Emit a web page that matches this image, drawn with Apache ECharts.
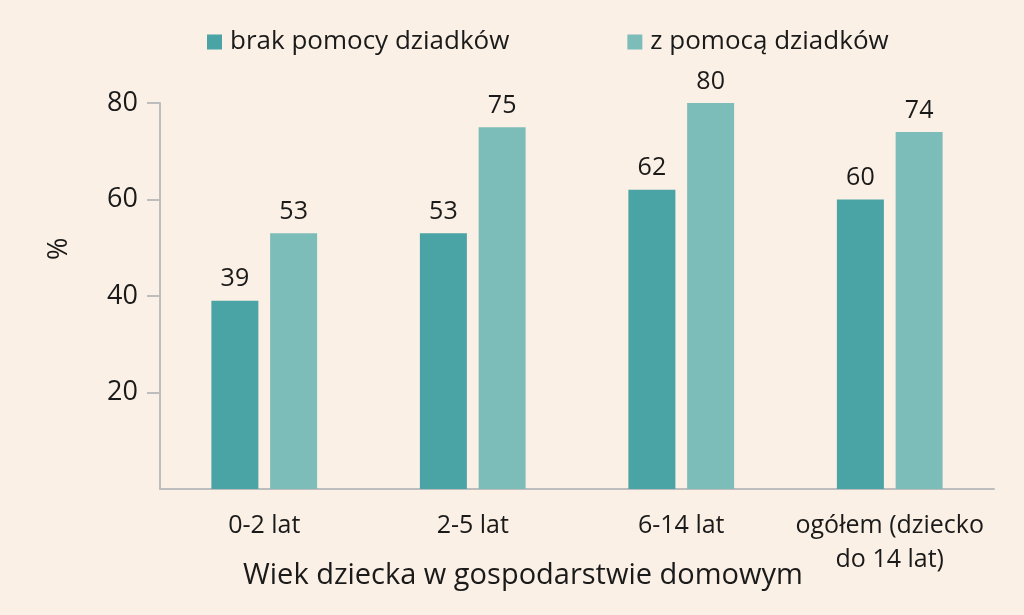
<!DOCTYPE html>
<html>
<head>
<meta charset="utf-8">
<script src="https://cdn.jsdelivr.net/npm/echarts@6/dist/echarts.min.js"></script>
<style>
  html, body { margin: 0; padding: 0; background: #fbf0e5; }
  #chart { width: 1024px; height: 615px; }
</style>
</head>
<body>
<div id="chart"></div>
<script>
// dane
var categories = ['0-2 lat', '2-5 lat', '6-14 lat', 'ogółem (dziecko\ndo 14 lat)'];
var seriesNames = ['brak pomocy dziadków', 'z pomocą dziadków'];
var brakPomocy = [39, 53, 62, 60];
var zPomoca = [53, 75, 80, 74];
var yTicks = [20, 40, 60, 80];

var FONT = '"Open Sans", sans-serif';
var colors = ['#4aa3a4', '#7dbdb9'];

var myChart = echarts.init(document.getElementById('chart'));

myChart.setOption({
    backgroundColor: '#fbf0e5',
    color: colors,
    textStyle: { fontFamily: FONT },
    legend: {
        top: 24,
        left: 202,
        itemWidth: 15,
        itemHeight: 15,
        itemGap: 118,
        icon: 'rect',
        textStyle: { fontSize: 26, color: '#1a1a1a', fontFamily: FONT, padding: [0, 0, 0, 3] },
        data: seriesNames
    },
    grid: { left: 160, right: 30, top: 103, bottom: 126 },
    xAxis: {
        type: 'category',
        data: categories,
        axisLine: { lineStyle: { color: '#bdbdbd', width: 2 } },
        axisTick: { show: false },
        axisLabel: { interval: 0, fontSize: 25, color: '#1a1a1a', margin: 20, lineHeight: 34, fontFamily: FONT }
    },
    yAxis: {
        type: 'value',
        min: 0,
        max: 80,
        interval: 20,
        splitLine: { show: false },
        axisLine: { show: true, lineStyle: { color: '#bdbdbd', width: 2 } },
        axisTick: { show: true, length: 13, customValues: yTicks, lineStyle: { color: '#bdbdbd', width: 2 } },
        axisLabel: { customValues: yTicks, fontSize: 27, color: '#1a1a1a', margin: 22, fontFamily: FONT }
    },
    graphic: [
        {
            type: 'text',
            left: 243,
            top: 561,
            style: { text: 'Wiek dziecka w gospodarstwie domowym', fontSize: 29, fill: '#1a1a1a', fontFamily: FONT }
        },
        {
            type: 'text',
            x: 46,
            y: 260,
            rotation: Math.PI / 2,
            style: { text: '%', fontSize: 27, fill: '#1a1a1a', fontFamily: FONT }
        }
    ],
    series: [
        {
            name: seriesNames[0],
            type: 'bar',
            data: brakPomocy,
            barWidth: 47,
            barGap: '25%',
            label: { show: true, position: 'top', distance: 9, fontSize: 25, color: '#1a1a1a', fontFamily: FONT }
        },
        {
            name: seriesNames[1],
            type: 'bar',
            data: zPomoca,
            barWidth: 47,
            label: { show: true, position: 'top', distance: 9, fontSize: 25, color: '#1a1a1a', fontFamily: FONT }
        }
    ]
});

window.onresize = function () {
    myChart.resize();
};
</script>
</body>
</html>
